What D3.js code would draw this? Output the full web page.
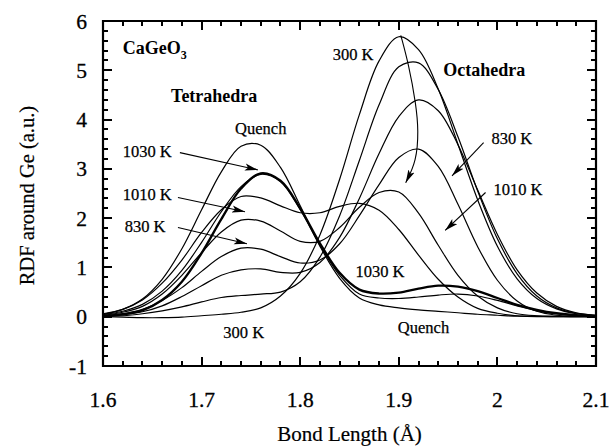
<!DOCTYPE html>
<html>
<head>
<meta charset="utf-8">
<script src="https://cdn.jsdelivr.net/npm/d3@7"></script>
<style>
  html, body { margin: 0; padding: 0; background: #fff; }
  svg { display: block; }
  text { font-family: "Liberation Serif", "Times New Roman", serif; fill: #000; }
</style>
</head>
<body>
<svg id="chart" width="610" height="446" xmlns="http://www.w3.org/2000/svg"></svg>
<script>
// ---------- data ----------
const bondLength = [1.60,1.62,1.64,1.66,1.68,1.70,1.72,1.74,1.76,1.78,1.80,1.82,1.84,1.86,1.88,1.90,1.92,1.94,1.96,1.98,2.00,2.02,2.04,2.06,2.08,2.10];

const rdfQuench   = [0.05,0.15,0.36,0.76,1.38,2.17,2.94,3.46,3.48,3.03,2.25,1.43,0.78,0.38,0.24,0.18,0.14,0.11,0.08,0.05,0.03,0.01,0,0,0,0];
const rdf1030     = [0.01,0.05,0.13,0.34,0.71,1.29,1.98,2.60,2.91,2.76,2.20,1.49,0.89,0.55,0.47,0.49,0.57,0.63,0.61,0.52,0.38,0.24,0.14,0.07,0.03,0.01];
const rdf1030b    = [0.04,0.11,0.25,0.52,0.94,1.51,2.13,2.64,2.89,2.74,2.17,1.45,0.84,0.46,0.38,0.37,0.40,0.44,0.46,0.42,0.33,0.22,0.12,0.06,0.02,0.01];
const rdf1020     = [0.06,0.15,0.34,0.68,1.15,1.71,2.17,2.44,2.41,2.25,2.11,2.11,2.24,2.30,2.16,1.77,1.25,0.76,0.40,0.17,0.07,0.02,0.01,0,0,0];
const rdf1010     = [0.03,0.09,0.21,0.46,0.84,1.30,1.72,1.96,1.94,1.74,1.53,1.53,1.81,2.22,2.52,2.53,2.10,1.45,0.84,0.42,0.18,0.06,0.02,0.01,0,0];
const rdf830      = [0.02,0.06,0.15,0.33,0.59,0.92,1.22,1.39,1.37,1.22,1.09,1.15,1.48,2.05,2.68,3.23,3.40,3.05,2.28,1.42,0.74,0.32,0.11,0.03,0.01,0];
const rdf700      = [0.01,0.04,0.10,0.22,0.41,0.63,0.84,0.95,0.97,0.90,0.90,1.10,1.61,2.40,3.31,4.06,4.40,4.18,3.49,2.57,1.67,0.95,0.48,0.21,0.08,0.03];
const rdf500      = [0.01,0.02,0.06,0.12,0.20,0.30,0.39,0.43,0.46,0.50,0.71,1.21,2.05,3.17,4.30,5.07,5.15,4.61,3.65,2.55,1.58,0.87,0.42,0.18,0.07,0.03];
const rdf300      = [0.00,-0.01,-0.02,-0.02,-0.01,0.02,0.05,0.09,0.18,0.42,0.88,1.66,2.79,4.10,5.19,5.68,5.42,4.62,3.50,2.37,1.43,0.77,0.37,0.16,0.06,0.02];

const thinCurves  = [rdfQuench, rdf1030b, rdf1020, rdf1010, rdf830, rdf700, rdf500, rdf300];
const thickCurves = [rdf1030];

const xTickValues = [1.6, 1.7, 1.8, 1.9, 2.0, 2.1];
const xTickLabels = ["1.6", "1.7", "1.8", "1.9", "2", "2.1"];
const yTickValues = [-1, 0, 1, 2, 3, 4, 5, 6];
const yTickLabels = ["-1", "0", "1", "2", "3", "4", "5", "6"];

// annotation texts: [text, x, y]
const plainLabels = [
  ["Quench", 1.734, 3.83],
  ["1030 K", 1.620, 3.35],
  ["1010 K", 1.620, 2.49],
  ["830 K", 1.622, 1.84],
  ["300 K", 1.833, 5.32],
  ["830 K", 1.994, 3.63],
  ["1010 K", 1.996, 2.59],
  ["1030 K", 1.856, 0.93],
  ["Quench", 1.899, -0.22],
  ["300 K", 1.722, -0.32]
];
const boldLabels = [
  ["Tetrahedra", 1.669, 4.49],
  ["Octahedra", 1.945, 5.01]
];
// straight arrows: [x1, y1, x2(tip), y2(tip)]
const arrows = [
  [1.678, 3.33, 1.757, 2.98],
  [1.676, 2.42, 1.744, 2.13],
  [1.676, 1.81, 1.746, 1.48],
  [1.986, 3.53, 1.954, 2.86],
  [1.988, 2.52, 1.947, 1.75]
];
// curved arrow from the 300 K peak
const curvedArrowX = [1.902, 1.910, 1.9175, 1.920, 1.918, 1.907];
const curvedArrowY = [5.71, 5.12, 4.31, 3.77, 3.16, 2.72];

// ---------- layout ----------
const W = 610, H = 446;
const L = 103, R = 596, T = 21, B = 366;
const FONT = "Liberation Serif, Times New Roman, serif";
const svg = d3.select("#chart");
svg.append("rect").attr("width", W).attr("height", H).attr("fill", "#fff");

const x = d3.scaleLinear().domain([1.6, 2.1]).range([L, R]);
const y = d3.scaleLinear().domain([-1, 6]).range([B, T]);

const xMinor = d3.range(80, 106).map(i => i / 50).filter(v => Math.abs(v * 10 - Math.round(v * 10)) > 1e-6);
const yMinor = d3.range(-5, 31).map(i => i / 5).filter(v => Math.abs(v - Math.round(v)) > 1e-6);

// frame
svg.append("path")
  .attr("d", `M${L},${T}H${R}V${B}H${L}Z`)
  .attr("fill", "none").attr("stroke", "#000").attr("stroke-width", 2.2);

// ticks (inside, on all four sides)
const MAJ = 9, MIN = 5;
let td = "";
xTickValues.forEach(v => { td += `M${Math.round(x(v))},${B}v${-MAJ}M${Math.round(x(v))},${T}v${MAJ}`; });
xMinor.forEach(v => { td += `M${Math.round(x(v))},${B}v${-MIN}M${Math.round(x(v))},${T}v${MIN}`; });
yTickValues.forEach(v => { td += `M${L},${Math.round(y(v))}h${MAJ}M${R},${Math.round(y(v))}h${-MAJ}`; });
yMinor.forEach(v => { td += `M${L},${Math.round(y(v))}h${MIN}M${R},${Math.round(y(v))}h${-MIN}`; });
svg.append("path").attr("d", td).attr("fill", "none").attr("stroke", "#000").attr("stroke-width", 2);

// tick labels
const tickFont = 21.5;
svg.append("g").selectAll("text").data(xTickValues).join("text")
  .attr("x", d => x(d)).attr("y", 407).attr("text-anchor", "middle")
  .attr("font-family", FONT).attr("font-size", tickFont).attr("stroke", "#000").attr("stroke-width", 0.3)
  .text((d, i) => xTickLabels[i]);
svg.append("g").selectAll("text").data(yTickValues).join("text")
  .attr("x", 87).attr("y", d => y(d)).attr("dy", "0.35em").attr("text-anchor", "end")
  .attr("font-family", FONT).attr("font-size", tickFont).attr("stroke", "#000").attr("stroke-width", 0.3)
  .text((d, i) => yTickLabels[i]);

// axis titles
svg.append("text").attr("x", (L + R) / 2).attr("y", 441).attr("text-anchor", "middle")
  .attr("font-family", FONT).attr("font-size", 21).attr("stroke", "#000").attr("stroke-width", 0.2)
  .text("Bond Length (Å)");
svg.append("text").attr("transform", `translate(34,${(T + B) / 2 + 2}) rotate(-90)`)
  .attr("text-anchor", "middle").attr("font-family", FONT).attr("font-size", 20.5)
  .attr("stroke", "#000").attr("stroke-width", 0.2)
  .text("RDF around Ge (a.u.)");

// curves
const line = d3.line()
  .x((d, i) => x(bondLength[i]))
  .y(d => y(d))
  .curve(d3.curveCatmullRom.alpha(0.5));

const plot = svg.append("g");
plot.selectAll("path.thin").data(thinCurves).join("path").attr("class", "thin")
  .attr("d", line).attr("fill", "none").attr("stroke", "#000").attr("stroke-width", 1.2);
plot.selectAll("path.thick").data(thickCurves).join("path").attr("class", "thick")
  .attr("d", line).attr("fill", "none").attr("stroke", "#000").attr("stroke-width", 2.3);

// arrow marker
const defs = svg.append("defs");
defs.append("marker").attr("id", "ah").attr("viewBox", "0 0 13 8")
  .attr("refX", 13).attr("refY", 4).attr("markerWidth", 13).attr("markerHeight", 8)
  .attr("markerUnits", "userSpaceOnUse").attr("orient", "auto")
  .append("path").attr("d", "M0,0.5 L13,4 L0,7.5 L3,4 Z").attr("fill", "#000");

svg.append("g").selectAll("line").data(arrows).join("line")
  .attr("x1", d => x(d[0])).attr("y1", d => y(d[1]))
  .attr("x2", d => x(d[2])).attr("y2", d => y(d[3]))
  .attr("stroke", "#000").attr("stroke-width", 1.1).attr("marker-end", "url(#ah)");

const carrow = d3.line().x((d, i) => x(curvedArrowX[i])).y(d => y(d)).curve(d3.curveBasis);
svg.append("path").attr("d", carrow(curvedArrowY)).attr("fill", "none")
  .attr("stroke", "#000").attr("stroke-width", 1.1).attr("marker-end", "url(#ah)");

// labels
svg.append("g").selectAll("text").data(plainLabels).join("text")
  .attr("x", d => x(d[1])).attr("y", d => y(d[2])).attr("dy", "0.35em")
  .attr("font-family", FONT).attr("font-size", 16.5).attr("stroke", "#000").attr("stroke-width", 0.25)
  .text(d => d[0]);
svg.append("g").selectAll("text").data(boldLabels).join("text")
  .attr("x", d => x(d[1])).attr("y", d => y(d[2])).attr("dy", "0.35em")
  .attr("font-family", FONT).attr("font-size", 18).attr("font-weight", "bold").text(d => d[0]);

// CaGeO3 with subscript
const cg = svg.append("text").attr("x", x(1.620)).attr("y", y(5.45)).attr("dy", "0.35em")
  .attr("font-family", FONT).attr("font-size", 18).attr("font-weight", "bold");
cg.append("tspan").text("CaGeO");
cg.append("tspan").attr("font-size", 12).attr("dy", 5).text("3");
</script>
</body>
</html>
